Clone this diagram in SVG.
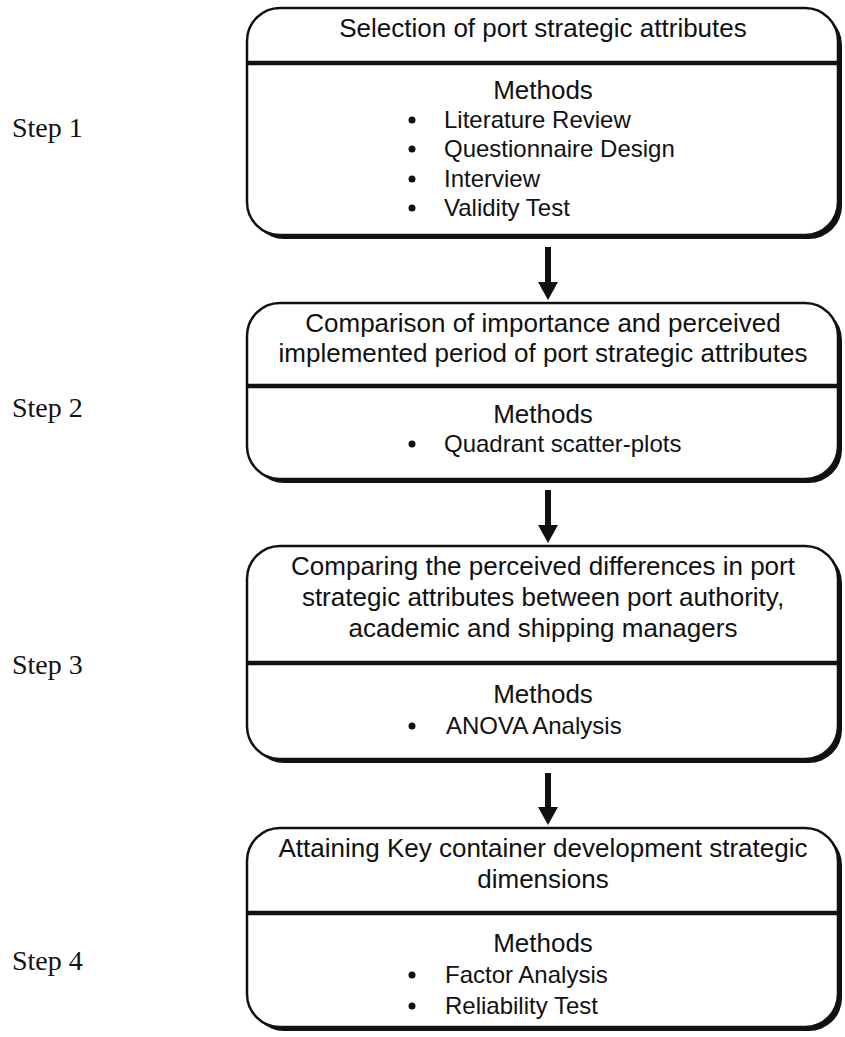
<svg xmlns="http://www.w3.org/2000/svg" width="845" height="1037" viewBox="0 0 845 1037">
<defs>
<style>
.shadow{fill:#111}
.box{fill:#fff;stroke:#111;stroke-width:2.5}
.div{stroke:#111;stroke-width:4.5}
.t{font-family:"Liberation Sans",Arial,sans-serif;font-size:26px;fill:#111;text-anchor:middle}
.m{font-family:"Liberation Sans",Arial,sans-serif;font-size:26px;fill:#111;text-anchor:middle}
.i{font-family:"Liberation Sans",Arial,sans-serif;font-size:24px;fill:#111}
.step{font-family:"Liberation Serif","Times New Roman",serif;font-size:28px;fill:#111}
.b{fill:#111}
.arr{stroke:#111;stroke-width:6;fill:none}
</style>
<marker id="ah" markerUnits="userSpaceOnUse" markerWidth="18" markerHeight="20" refX="1" refY="10" orient="auto">
<path d="M0,0 L18,10 L0,20 z" fill="#111"/>
</marker>
</defs>
<rect width="845" height="1037" fill="#fff"/>

<g id="labels">
<text class="step" x="12" y="137">Step 1</text>
<text class="step" x="12" y="417">Step 2</text>
<text class="step" x="12" y="674">Step 3</text>
<text class="step" x="12" y="970">Step 4</text>
</g>

<g id="step1">
<rect class="shadow" x="251" y="12" width="591" height="227" rx="33"/>
<rect class="box" x="247" y="8" width="591" height="227" rx="33"/>
<line class="div" x1="247" y1="63" x2="838" y2="63"/>
<text class="t" x="543" y="37">Selection of port strategic attributes</text>
<text class="m" x="543" y="99">Methods</text>
<circle class="b" cx="412" cy="120" r="3.5"/><text class="i" x="444" y="128">Literature Review</text>
<circle class="b" cx="412" cy="149" r="3.5"/><text class="i" x="444" y="157">Questionnaire Design</text>
<circle class="b" cx="412" cy="179" r="3.5"/><text class="i" x="444" y="187">Interview</text>
<circle class="b" cx="412" cy="208" r="3.5"/><text class="i" x="444" y="216">Validity Test</text>
</g>

<g id="step2">
<rect class="shadow" x="251" y="307" width="591" height="176" rx="33"/>
<rect class="box" x="247" y="303" width="591" height="176" rx="33"/>
<line class="div" x1="247" y1="386" x2="838" y2="386"/>
<text class="t" x="543" y="332">Comparison of importance and perceived</text>
<text class="t" x="543" y="362">implemented period of port strategic attributes</text>
<text class="m" x="543" y="423">Methods</text>
<circle class="b" cx="412" cy="444" r="3.5"/><text class="i" x="444" y="452">Quadrant scatter-plots</text>
</g>

<g id="step3">
<rect class="shadow" x="251" y="550" width="591" height="213" rx="33"/>
<rect class="box" x="247" y="546" width="591" height="213" rx="33"/>
<line class="div" x1="247" y1="663" x2="838" y2="663"/>
<text class="t" x="543" y="575">Comparing the perceived differences in port</text>
<text class="t" x="543" y="606">strategic attributes between port authority,</text>
<text class="t" x="543" y="637">academic and shipping managers</text>
<text class="m" x="543" y="703">Methods</text>
<circle class="b" cx="412" cy="726" r="3.5"/><text class="i" x="446" y="734">ANOVA Analysis</text>
</g>

<g id="step4">
<rect class="shadow" x="251" y="832" width="591" height="199" rx="33"/>
<rect class="box" x="247" y="828" width="591" height="199" rx="33"/>
<line class="div" x1="247" y1="913" x2="838" y2="913"/>
<text class="t" x="543" y="857">Attaining Key container development strategic</text>
<text class="t" x="543" y="888">dimensions</text>
<text class="m" x="543" y="952">Methods</text>
<circle class="b" cx="412" cy="975" r="3.5"/><text class="i" x="445" y="983">Factor Analysis</text>
<circle class="b" cx="412" cy="1006" r="3.5"/><text class="i" x="445" y="1014">Reliability Test</text>
</g>

<g id="connectors">
<line class="arr" x1="548" y1="247" x2="548" y2="283" marker-end="url(#ah)"/>
<line class="arr" x1="548" y1="490" x2="548" y2="526" marker-end="url(#ah)"/>
<line class="arr" x1="548" y1="773" x2="548" y2="808" marker-end="url(#ah)"/>
</g>
</svg>
